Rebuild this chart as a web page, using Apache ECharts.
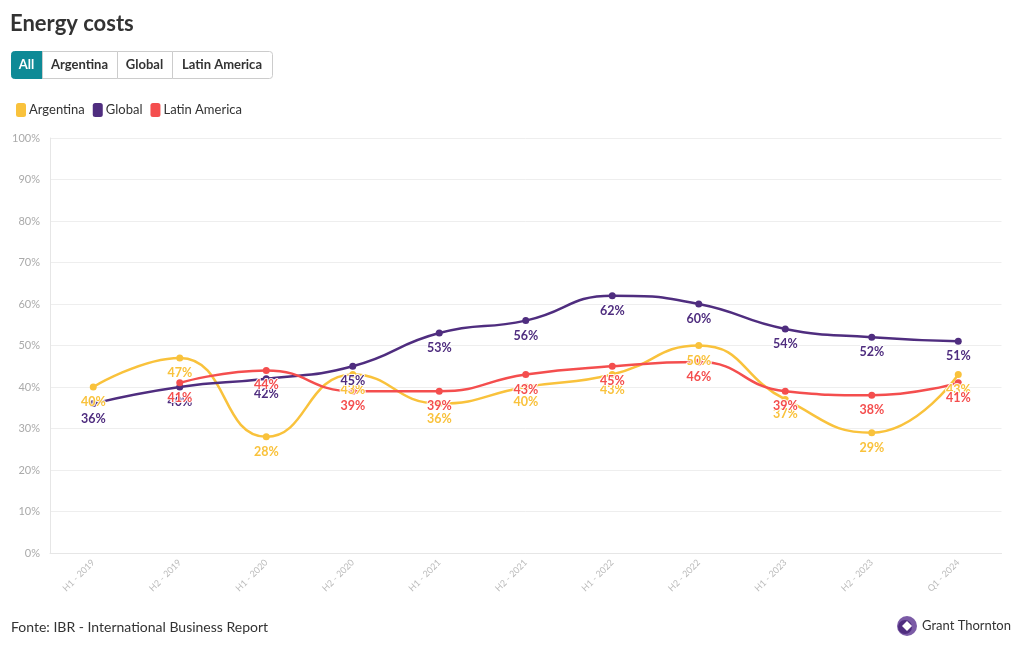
<!DOCTYPE html>
<html><head><meta charset="utf-8">
<script src="https://cdn.jsdelivr.net/npm/echarts@6/dist/echarts.min.js"></script>
<style>html,body{margin:0;padding:0;background:#fff}#c{width:1020px;height:650px}</style>
</head><body><div id="c"></div>
<script>
const categories = ['H1 - 2019','H2 - 2019','H1 - 2020','H2 - 2020','H1 - 2021','H2 - 2021','H1 - 2022','H2 - 2022','H1 - 2023','H2 - 2023','Q1 - 2024'];
const argentina = [40,47,28,43,36,40,43,50,37,29,43];
const globalVals = [36,40,42,45,53,56,62,60,54,52,51];
const latam = [null,41,44,39,39,43,45,46,39,38,41];
const colors = {arg:'#F9C23C', glo:'#4F2D7F', lat:'#F44E4E'};
const FONT = 'Lato, "Noto Sans", sans-serif';

function mkSeries(name, data, color){
  return {
    name, type:'line', data, smooth:0.5, connectNulls:false,
    symbol:'circle', symbolSize:7,
    lineStyle:{width:2.5,color}, itemStyle:{color},
    label:{show:true, position:'bottom', distance:5, formatter:p=>p.value+'%',
      color, fontWeight:'bold', fontSize:12.5, fontFamily:FONT,
      textBorderColor:'rgba(255,255,255,0.9)', textBorderWidth:2}
  };
}
const btns = [['All',11,31,true],['Argentina',42,75,false],['Global',117,55,false],['Latin America',172,100,false]];
const graphic = [];
btns.forEach(b=>{
  graphic.push({type:'rect', left:b[1], top:51, shape:{width:b[2], height:27, r: b[0]==='All'?[3,0,0,3]:(b[0]==='Latin America'?[0,3,3,0]:0)},
    style:{fill:b[3]?'#0E8A96':'#fff', stroke:b[3]?'#0E8A96':'#ccc', lineWidth:1}, z:10});
  graphic.push({type:'text', x:b[1]+b[2]/2, y:65, style:{text:b[0], fill:b[3]?'#fff':'#333', font:'bold 13px '+FONT, align:'center', verticalAlign:'middle'}, z:11});
});
graphic.push({type:'text', left:11, top:620, style:{text:'Fonte: IBR - International Business Report', fill:'#333', font:'14px '+FONT}});
graphic.push({type:'circle', shape:{cx:907, cy:626, r:10}, style:{fill:'#7B5BA6'}, z:10});
graphic.push({type:'circle', shape:{cx:905, cy:627, r:7}, style:{fill:'#4F2D7F'}, z:11});
graphic.push({type:'polygon', shape:{points:[[907,621],[912,626],[907,631],[902,626]]}, style:{fill:'#fff'}, z:12});
graphic.push({type:'text', x:922, y:626, style:{text:'Grant Thornton', fill:'#333', font:'13px '+FONT, verticalAlign:'middle'}, z:10});

const chart = echarts.init(document.getElementById('c'));
chart.setOption({
  backgroundColor:'#fff',
  animation:false,
  title:{text:'Energy costs', left:5, top:8, textStyle:{fontSize:22, fontWeight:'bold', color:'#333', fontFamily:FONT}},
  legend:{left:11, top:98, icon:'roundRect', itemWidth:10, itemHeight:14, itemGap:8,
    textStyle:{fontSize:13, color:'#333', fontFamily:FONT, padding:[0,0,0,-2]},
    data:['Argentina','Global','Latin America']},
  graphic,
  grid:{left:50, right:18.5, top:138, bottom:97, containLabel:false},
  xAxis:{type:'category', data:categories, boundaryGap:true,
    axisLine:{lineStyle:{color:'#e6e6e6'}},
    axisTick:{alignWithLabel:true, lineStyle:{color:'#e6e6e6'}},
    axisLabel:{rotate:45, fontSize:9, color:'#bbb', fontFamily:FONT, margin:8}},
  yAxis:{type:'value', min:0, max:100, interval:10,
    axisLine:{show:true, lineStyle:{color:'#e6e6e6'}},
    splitLine:{lineStyle:{color:'#eeeeee'}},
    axisLabel:{formatter:v=>v+'%', fontSize:11, color:'#aaa', fontFamily:FONT, margin:10}},
  series:[mkSeries('Argentina',argentina,colors.arg), mkSeries('Global',globalVals,colors.glo), mkSeries('Latin America',latam,colors.lat)]
});
</script></body></html>
